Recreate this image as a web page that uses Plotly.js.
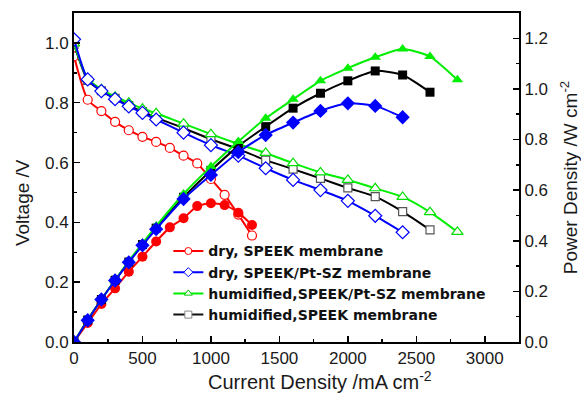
<!DOCTYPE html>
<html>
<head>
<meta charset="utf-8">
<script src="https://cdn.plot.ly/plotly-3.0.1.min.js"></script>
<style>html,body{margin:0;padding:0;background:#fff;}#chart{width:581px;height:393px;}</style>
</head>
<body>
<div id="chart"></div>
<script>
// ---- data ----
const xRed = [0,100,200,300,400,500,600,700,800,900,1000,1100,1200,1300];
const vRed = [0.955,0.81,0.772,0.736,0.708,0.686,0.669,0.649,0.623,0.597,0.545,0.492,0.426,0.356];
const pRed = [0,0.075,0.15,0.212,0.278,0.337,0.397,0.453,0.489,0.537,0.548,0.541,0.511,0.462];

const xBlue = [0,100,200,300,400,500,600,800,1000,1200,1400,1600,1800,2000,2200,2400];
const vBlue = [1.012,0.878,0.839,0.812,0.788,0.766,0.744,0.700,0.658,0.623,0.581,0.542,0.508,0.472,0.422,0.367];
const pBlue = [0,0.086,0.168,0.243,0.315,0.382,0.446,0.565,0.660,0.750,0.818,0.867,0.913,0.943,0.933,0.888];

const xGreen = [0,100,200,300,400,500,600,800,1000,1200,1400,1600,1800,2000,2200,2400,2600,2800];
const vGreen = [0.998,0.88,0.845,0.82,0.80,0.78,0.765,0.73,0.695,0.662,0.632,0.598,0.567,0.542,0.514,0.485,0.434,0.368];
const pGreen = [0,0.088,0.168,0.245,0.32,0.39,0.458,0.585,0.693,0.792,0.884,0.959,1.032,1.082,1.125,1.158,1.128,1.036];

const xBlack = [0,100,200,300,400,500,600,800,1000,1200,1400,1600,1800,2000,2200,2400,2600];
const vBlack = [0.995,0.875,0.84,0.815,0.79,0.77,0.75,0.715,0.678,0.645,0.608,0.578,0.547,0.515,0.486,0.436,0.375];
const pBlack = [0,0.087,0.168,0.244,0.316,0.385,0.45,0.572,0.678,0.774,0.851,0.924,0.983,1.032,1.071,1.055,0.987];

const names = ['dry, SPEEK membrane','dry, SPEEK/Pt-SZ membrane','humidified,SPEEK/Pt-SZ membrane','humidified,SPEEK membrane'];
const xTicks = [0,500,1000,1500,2000,2500,3000];

// ---- traces ----
function vTrace(x, y, color, sym, edge, size) {
  return {x: x, y: y, type: 'scatter', mode: 'lines+markers', yaxis: 'y', showlegend: false,
    line: {color: color, width: 2, shape: 'spline', smoothing: 0.6},
    marker: {symbol: sym, size: size, color: '#ffffff', line: {color: edge, width: 1.2}}};
}
function pTrace(x, y, color, sym, size) {
  return {x: x, y: y, type: 'scatter', mode: 'lines+markers', yaxis: 'y2', showlegend: false,
    line: {color: color, width: 2, shape: 'spline', smoothing: 0.6},
    marker: {symbol: sym, size: size, color: color}};
}
function legTrace(name, color, sym, edge, rank) {
  return {x: [null], y: [null], name: name, type: 'scatter', mode: 'lines+markers', legendrank: rank,
    line: {color: color, width: 2},
    marker: {symbol: sym, size: 7, color: '#ffffff', line: {color: edge, width: 1}}};
}

const data = [
  vTrace(xRed, vRed, '#ff0000', 'circle', '#ff0000', 9),
  vTrace(xBlack, vBlack, '#000000', 'square', '#555555', 8),
  vTrace(xGreen, vGreen, '#00ee00', 'triangle-up', '#00dd00', 10),
  vTrace(xBlue, vBlue, '#0000ff', 'diamond', '#0000ff', 10),
  pTrace(xRed, pRed, '#ff0000', 'circle', 10),
  pTrace(xBlack, pBlack, '#000000', 'square', 9),
  pTrace(xGreen, pGreen, '#00ee00', 'triangle-up', 10),
  pTrace(xBlue, pBlue, '#0000ff', 'diamond', 11),
  legTrace(names[0], '#ff0000', 'circle', '#ff0000', 1),
  legTrace(names[1], '#0000ff', 'diamond', '#0000ff', 2),
  legTrace(names[2], '#00ee00', 'triangle-up', '#00cc00', 3),
  legTrace(names[3], '#111111', 'square', '#888888', 4)
];

const tickFont = {family: 'Arial, "Liberation Sans", sans-serif', size: 17, color: '#1a1a1a'};
const xTitleFont = {family: 'Arial, "Liberation Sans", sans-serif', size: 20, color: '#1a1a1a'};
const yTitleFont = {family: 'Arial, "Liberation Sans", sans-serif', size: 19, color: '#1a1a1a'};

const layout = {
  width: 581, height: 393,
  margin: {l: 74, r: 62, t: 13, b: 51},
  paper_bgcolor: '#ffffff', plot_bgcolor: '#ffffff',
  showlegend: true,
  legend: {x: 0.212, y: 0.324, xanchor: 'left', yanchor: 'top', bgcolor: 'rgba(0,0,0,0)',
    font: {family: '"DejaVu Sans", Arial, sans-serif', size: 14, color: '#111', weight: 'bold'},
    tracegroupgap: 0, itemsizing: 'trace'},
  xaxis: {range: [0, 3250], tickvals: xTicks, ticktext: xTicks.map(String),
    showgrid: false, zeroline: false, showline: true, linecolor: '#000', linewidth: 2, mirror: true,
    ticks: 'inside', ticklen: 6, tickwidth: 1.5, tickcolor: '#000',
    minor: {dtick: 250, ticks: 'inside', ticklen: 3, tickwidth: 1.5, tickcolor: '#000', showgrid: false},
    tickfont: tickFont},
  yaxis: {range: [0, 1.1], dtick: 0.2, tick0: 0, tickformat: '.1f',
    showgrid: false, zeroline: false, showline: true, linecolor: '#000', linewidth: 2,
    ticks: 'inside', ticklen: 6, tickwidth: 1.5, tickcolor: '#000',
    minor: {dtick: 0.1, ticks: 'inside', ticklen: 3, tickwidth: 1.5, tickcolor: '#000', showgrid: false},
    tickfont: tickFont},
  yaxis2: {range: [0, 1.3], dtick: 0.2, tick0: 0, tickformat: '.1f', overlaying: 'y', side: 'right',
    showgrid: false, zeroline: false, showline: true, linecolor: '#000', linewidth: 2,
    ticks: 'inside', ticklen: 6, tickwidth: 1.5, tickcolor: '#000',
    minor: {dtick: 0.1, ticks: 'inside', ticklen: 3, tickwidth: 1.5, tickcolor: '#000', showgrid: false},
    tickfont: tickFont,
    title: {text: 'Power Density /W cm<sup>-2</sup>', font: yTitleFont, standoff: 18}},
  annotations: [
    {text: 'Current Density /mA cm<sup>-2</sup>', xref: 'paper', yref: 'paper',
     x: 0.553, y: -0.118, xanchor: 'center', yanchor: 'middle', showarrow: false, font: xTitleFont},
    {text: 'Voltage /V', xref: 'paper', yref: 'paper', textangle: -90,
     x: -0.117, y: 0.425, xanchor: 'center', yanchor: 'middle', showarrow: false, font: yTitleFont}
  ]
};

Plotly.newPlot('chart', data, layout, {displayModeBar: false, staticPlot: true});
</script>
</body>
</html>
